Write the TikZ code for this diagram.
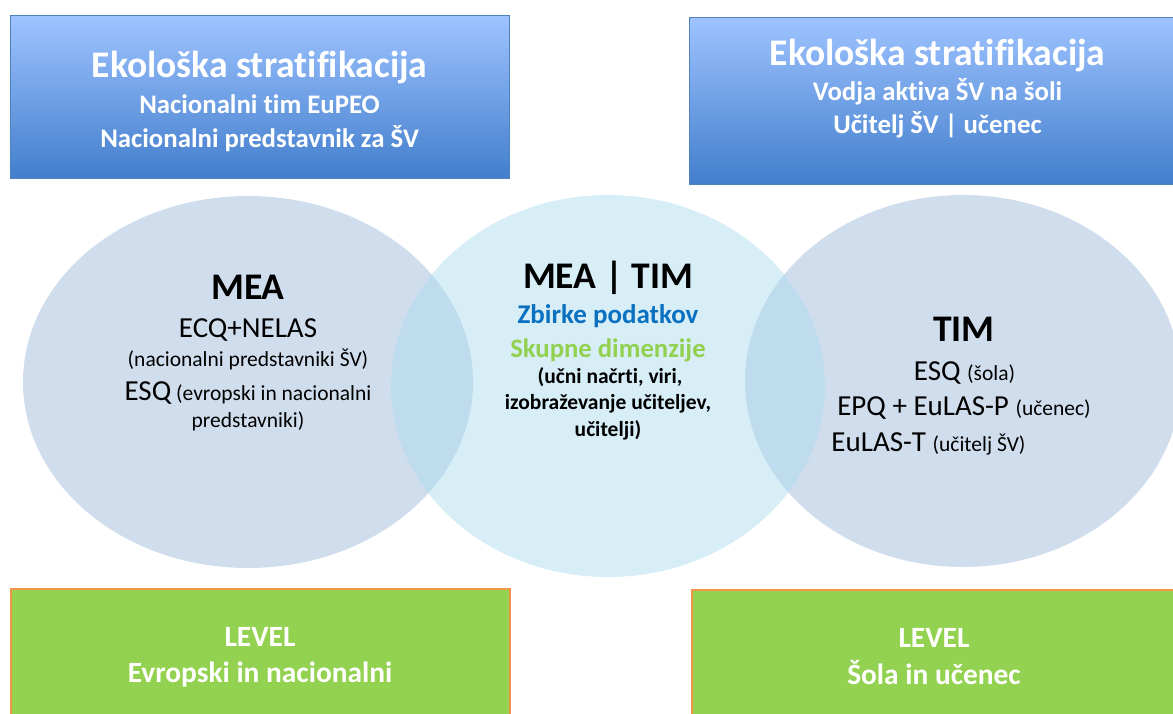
\documentclass[tikz,border=0pt]{standalone}
\usepackage{fontspec}
\setmainfont{Carlito}[RawFeature=-liga]
\definecolor{ellblue}{RGB}{208,221,237}
\definecolor{midblue}{RGB}{170,219,238}
\definecolor{topgrad}{RGB}{158,195,255}
\definecolor{botgrad}{RGB}{66,126,204}
\definecolor{edgeblue}{RGB}{79,129,189}
\definecolor{lvlgreen}{RGB}{146,210,80}
\definecolor{lvledge}{RGB}{240,150,70}
\definecolor{zbirke}{RGB}{10,112,192}
\definecolor{skupne}{RGB}{146,208,80}
\newcommand{\fs}[1]{\fontsize{#1}{#1}\selectfont}
\tikzset{
 x=1pt,y=-1pt,
 blubox/.style={draw=edgeblue,line width=1.4pt,top color=topgrad,bottom color=botgrad,anchor=north west,inner sep=0pt},
 lvlbox/.style={draw=lvledge,line width=1.8pt,fill=lvlgreen,anchor=north west,inner sep=0pt},
 txt/.style={inner sep=0pt,anchor=base,align=center},
 wht/.style={txt,text=white,font=\bfseries},
}
\begin{document}
\begin{tikzpicture}
\useasboundingbox (0,0) rectangle (1173,713);
\clip (0,0) rectangle (1173,713);
\node[blubox,minimum width=499pt,minimum height=163pt] (b1) at (10,15) {};
\node[blubox,minimum width=490pt,minimum height=167pt] (b2) at (688.5,17) {};
\node[lvlbox,minimum width=499pt,minimum height=135pt] (g1) at (10,588) {};
\node[lvlbox,minimum width=490pt,minimum height=135pt] (g2) at (691,589) {};
\fill[ellblue] (248,382) ellipse [x radius=225,y radius=186];
\fill[ellblue] (963,381) ellipse [x radius=218,y radius=186];
\fill[midblue,opacity=.47] (608,386) ellipse [x radius=217,y radius=191];
\node[wht] (t1) at (259.5,77) {\fs{37.6}Ekološka stratifikacija};
\node[wht] (t2) at (259.5,113) {\fs{26.8}Nacionalni tim EuPEO};
\node[wht] (t3) at (259.5,147) {\fs{26.8}Nacionalni predstavnik za ŠV};
\node[wht] (t4) at (937.5,65) {\fs{37.6}Ekološka stratifikacija};
\node[wht] (t5) at (937.5,100) {\fs{26.8}Vodja aktiva ŠV na šoli};
\node[wht] (t6) at (937.5,133) {\fs{26.8}Učitelj ŠV | učenec};
\node[txt,font=\bfseries] (m1) at (248,299) {\fs{37.6}MEA};
\node[txt] (m2) at (248,337) {\fs{29}ECQ+NELAS};
\node[txt] (m3) at (248,366) {\fs{21.5}(nacionalni predstavniki ŠV)};
\node[txt] (m4) at (248,400) {\fs{29}ESQ\fs{21.5} (evropski in nacionalni};
\node[txt] (m5) at (248,427) {\fs{21.5}predstavniki)};
\node[txt,font=\bfseries] (c1) at (608,288) {\fs{37.6}MEA | TIM};
\node[txt,font=\bfseries,text=zbirke] (c2) at (608,323) {\fs{27}Zbirke podatkov};
\node[txt,font=\bfseries,text=skupne] (c3) at (608,357) {\fs{26.7}Skupne dimenzije};
\node[txt,font=\bfseries] (c4) at (610,383) {\fs{21.5}(učni načrti, viri,};
\node[txt,font=\bfseries] (c5) at (608,409) {\fs{21.5}izobraževanje učiteljev,};
\node[txt,font=\bfseries] (c6) at (608,436) {\fs{21.5}učitelji)};
\node[txt,font=\bfseries] (r1) at (964,341) {\fs{37.6}TIM};
\node[txt] (r2) at (964.5,380) {\fs{29}ESQ \fs{21.5}(šola)};
\node[txt] (r3) at (964,415) {\fs{29}EPQ + EuLAS-P \fs{21.5}(učenec)};
\node[txt] (r4) at (928.5,451) {\fs{29}EuLAS-T \fs{21.5}(učitelj ŠV)};
\node[wht] (l1) at (260,646) {\fs{29.4}LEVEL};
\node[wht] (l2) at (260,682) {\fs{29.4}Evropski in nacionalni};
\node[wht] (l3) at (934,647) {\fs{29.4}LEVEL};
\node[wht] (l4) at (934,684) {\fs{29.4}Šola in učenec};
\end{tikzpicture}
\end{document}
